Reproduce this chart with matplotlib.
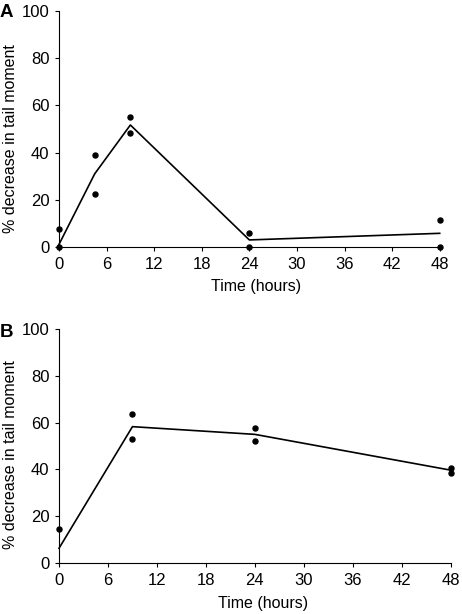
import matplotlib.pyplot as plt

plt.rcParams['font.family'] = ['Liberation Sans', 'DejaVu Sans']

# Panel A data
a_pts_x = [0, 0, 4.5, 4.5, 9, 9, 24, 24, 48, 48]
a_pts_y = [7.8, 0, 38.8, 22.6, 55, 48.4, 5.9, 0, 11.3, 0]
a_line_x = [0, 4.5, 9, 24, 48]
a_line_y = [1.1, 31, 51.7, 3.0, 5.8]

# Panel B data
b_pts_x = [0, 9, 9, 24, 24, 48, 48]
b_pts_y = [14.5, 63.8, 52.9, 57.8, 52.0, 40.5, 38.6]
b_line_x = [0, 9, 24, 48]
b_line_y = [6.3, 58.3, 55, 39.7]

xticks = [0, 6, 12, 18, 24, 30, 36, 42, 48]
yticks = [0, 20, 40, 60, 80, 100]

fig = plt.figure(figsize=(4.62, 6.14), dpi=100)
axA = fig.add_axes([0.1277, 0.5977, 0.824, 0.3844])
axB = fig.add_axes([0.1277, 0.083, 0.848, 0.381])

panels = [
    (axA, a_pts_x, a_pts_y, a_line_x, a_line_y, 'A', 0.9796, (0.517, -0.135), (-0.108, 0.46)),
    (axB, b_pts_x, b_pts_y, b_line_x, b_line_y, 'B', 0.459, (0.520, -0.140), (-0.105, 0.464)),
]

for ax, px, py, lx, ly, lab, laby, xlc, ylc in panels:
    ax.plot(lx, ly, color='black', lw=1.2, clip_on=False)
    ax.scatter(px, py, s=13, color='black', zorder=3, clip_on=False)
    ax.set_xlim(0, 48)
    ax.set_ylim(0, 100)
    ax.set_xticks(xticks)
    ax.set_yticks(yticks)
    ax.spines['top'].set_visible(False)
    ax.spines['right'].set_visible(False)
    ax.tick_params(direction='out', length=3, labelsize=12, pad=4)
    ax.set_xlabel('Time (hours)', fontsize=11.5)
    ax.set_ylabel('% decrease in tail moment', fontsize=11.5)
    ax.xaxis.set_label_coords(*xlc)
    ax.yaxis.set_label_coords(*ylc)
    fig.text(0.0, laby, lab, fontsize=13.5, fontweight='bold', va='center', ha='left')

fig.savefig('out.png', dpi=100)
